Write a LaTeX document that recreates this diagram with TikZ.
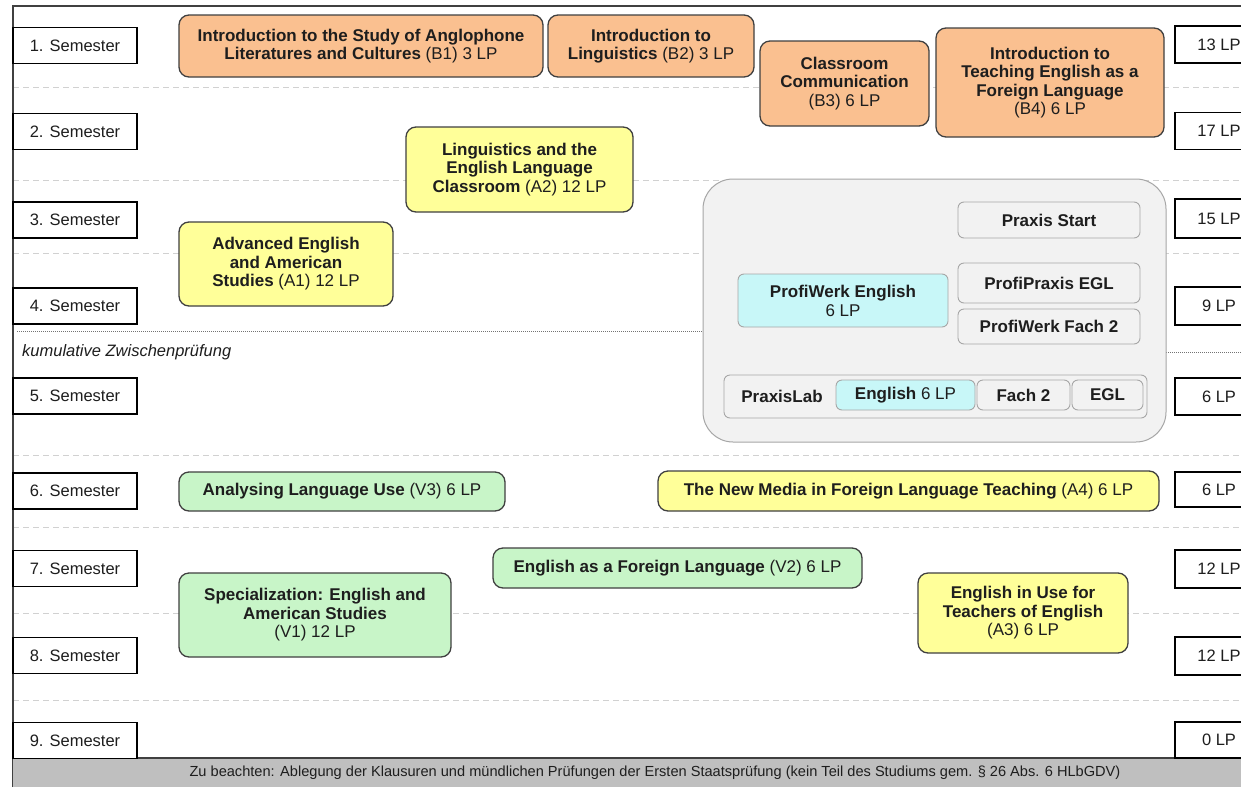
\documentclass[tikz,border=0pt]{standalone}
\usepackage{fontspec}
\setmainfont{Liberation Sans}
\begin{document}
\definecolor{orangeF}{HTML}{FAC090}
\definecolor{yellowF}{HTML}{FFFF99}
\definecolor{greenF}{HTML}{C8F5C8}
\definecolor{cyanF}{HTML}{C8F7F8}
\definecolor{panelF}{HTML}{F2F2F2}
\definecolor{panelD}{HTML}{A6A6A6}
\definecolor{edge}{HTML}{404040}
\definecolor{ink}{HTML}{1E1E1E}
\begin{tikzpicture}[x=1pt,y=-1pt,
  every node/.style={inner sep=0pt, text=ink},
  sembox/.style={draw=black, line width=1.1pt, fill=white, minimum width=124pt, minimum height=36pt,
    font=\fontsize{16.5}{18}\selectfont},
  lpbox/.style={draw=black, line width=1.1pt, fill=white, minimum width=88pt, minimum height=37pt,
    font=\fontsize{16.5}{18}\selectfont},
  module/.style={draw=edge, line width=1.3pt, rounded corners=10pt, align=center,
    font=\fontsize{17}{18.5}\selectfont},
  basis/.style={module, fill=orangeF},
  aufbau/.style={module, fill=yellowF},
  vertief/.style={module, fill=greenF},
  praxis/.style={draw=panelD, line width=0.9pt, fill=panelF, rounded corners=6pt, align=center,
    font=\fontsize{17}{19}\selectfont},
  praxisEn/.style={praxis, fill=cyanF},
  rowline/.style={draw=black!18, line width=0.9pt, dash pattern=on 6pt off 4pt},
  zpline/.style={draw=black!55, line width=0.8pt, dash pattern=on 1pt off 1pt}
]
\useasboundingbox (0,0) rectangle (1241,787);
\clip (0,0) rectangle (1241,787);
\fill[white] (0,0) rectangle (1241,787);

% semester separators
\foreach \yy in {87,180,253,455,527,613,700}
  \draw[rowline] (13,\yy) -- (1241,\yy);
% intermediate examination marker
\draw[zpline] (17,331) -- (703,331);
\draw[zpline] (1166,352) -- (1241,352);
\node[anchor=west, font=\fontsize{16.5}{18}\selectfont\itshape] (zp) at (22,352) {kumulative Zwischenprüfung};

% outer frame
\draw[edge, line width=1.3pt] (13,787) -- (13,6) -- (1241,6);

% footer bar
\fill[black!25] (13,758) rectangle (1241,787);
\draw[edge, line width=1.3pt] (13,758) -- (1241,758);
\node[font=\fontsize{14.6}{16}\selectfont] (note) at (655,773)
  {Zu beachten: Ablegung der Klausuren und mündlichen Prüfungen der Ersten Staatsprüfung (kein Teil des Studiums gem. § 26 Abs. 6 HLbGDV)};

% semester labels
\node[sembox] (s1) at (75,45.5) {1. Semester};
\node[sembox] (s2) at (75,131.5) {2. Semester};
\node[sembox] (s3) at (75,220) {3. Semester};
\node[sembox] (s4) at (75,306) {4. Semester};
\node[sembox] (s5) at (75,396) {5. Semester};
\node[sembox] (s6) at (75,491) {6. Semester};
\node[sembox] (s7) at (75,568.5) {7. Semester};
\node[sembox] (s8) at (75,655.5) {8. Semester};
\node[sembox] (s9) at (75,740.5) {9. Semester};

% credit points per semester
\node[lpbox] (lp1) at (1219,44.5) {13 LP};
\node[lpbox] (lp2) at (1219,131) {17 LP};
\node[lpbox, minimum height=39pt] (lp3) at (1219,218.5) {15 LP};
\node[lpbox, minimum height=38pt] (lp4) at (1219,306) {9 LP};
\node[lpbox] (lp5) at (1219,396.5) {6 LP};
\node[lpbox, minimum height=35pt] (lp6) at (1219,489.5) {6 LP};
\node[lpbox, minimum height=38pt] (lp7) at (1219,569) {12 LP};
\node[lpbox, minimum height=38pt] (lp8) at (1219,656) {12 LP};
\node[lpbox, minimum height=36pt] (lp9) at (1219,740) {0 LP};

% basic modules
\node[basis, minimum width=364pt, minimum height=62pt] (b1) at (361,46)
  {\textbf{Introduction to the Study of Anglophone}\\\textbf{Literatures and Cultures} (B1) 3 LP};
\node[basis, minimum width=206pt, minimum height=62pt] (b2) at (651,46)
  {\textbf{Introduction to}\\\textbf{Linguistics} (B2) 3 LP};
\node[basis, minimum width=169pt, minimum height=85pt] (b3) at (844.5,83.5)
  {\textbf{Classroom}\\\textbf{Communication}\\(B3) 6 LP};
\node[basis, minimum width=228pt, minimum height=109pt] (b4) at (1050,82.5)
  {\textbf{Introduction to}\\\textbf{Teaching English as a}\\\textbf{Foreign Language}\\(B4) 6 LP};

% advanced modules
\node[aufbau, minimum width=227pt, minimum height=85pt] (a2) at (519.5,169.5)
  {\textbf{Linguistics and the}\\\textbf{English Language}\\\textbf{Classroom} (A2) 12 LP};
\node[aufbau, minimum width=214pt, minimum height=84pt] (a1) at (286,264)
  {\textbf{Advanced English}\\\textbf{and American}\\\textbf{Studies} (A1) 12 LP};
\node[aufbau, minimum width=501pt, minimum height=40pt] (a4) at (908.5,491)
  {\textbf{The New Media in Foreign Language Teaching} (A4) 6 LP};
\node[aufbau, minimum width=210pt, minimum height=80pt] (a3) at (1023,613)
  {\textbf{English in Use for}\\\textbf{Teachers of English}\\(A3) 6 LP};

% specialisation modules
\node[vertief, minimum width=326pt, minimum height=39pt] (v3) at (342,491.5)
  {\textbf{Analysing Language Use} (V3) 6 LP};
\node[vertief, minimum width=369pt, minimum height=40pt] (v2) at (677.5,568)
  {\textbf{English as a Foreign Language} (V2) 6 LP};
\node[vertief, minimum width=272pt, minimum height=84pt] (v1) at (315,615)
  {\textbf{Specialization: English and}\\\textbf{American Studies}\\(V1) 12 LP};

% practical studies panel
\node[draw=panelD, line width=1pt, fill=panelF, rounded corners=30pt,
  minimum width=463pt, minimum height=263pt] (panel) at (934.5,310.5) {};
\node[praxis, minimum width=182pt, minimum height=36pt] (ps) at (1049,220) {\textbf{Praxis Start}};
\node[praxis, minimum width=182pt, minimum height=40pt] (ppe) at (1049,283) {\textbf{ProfiPraxis EGL}};
\node[praxis, minimum width=182pt, minimum height=35pt] (pwf) at (1049,326.5) {\textbf{ProfiWerk Fach 2}};
\node[praxisEn, minimum width=210pt, minimum height=53pt] (pwe) at (843,300.5)
  {\textbf{ProfiWerk English}\\6 LP};
\node[praxis, minimum width=423pt, minimum height=43pt] (pl) at (935.5,396.5) {};
\node[font=\fontsize{17}{19}\selectfont\bfseries] (pltext) at (782,396) {PraxisLab};
\node[praxisEn, minimum width=139pt, minimum height=30pt] (plen) at (905.5,395) {\textbf{English} 6 LP};
\node[praxis, minimum width=93pt, minimum height=30pt] (plf2) at (1023.5,395) {\textbf{Fach 2}};
\node[praxis, minimum width=71pt, minimum height=30pt] (plegl) at (1107.5,395) {\textbf{EGL}};
\end{tikzpicture}
\end{document}
